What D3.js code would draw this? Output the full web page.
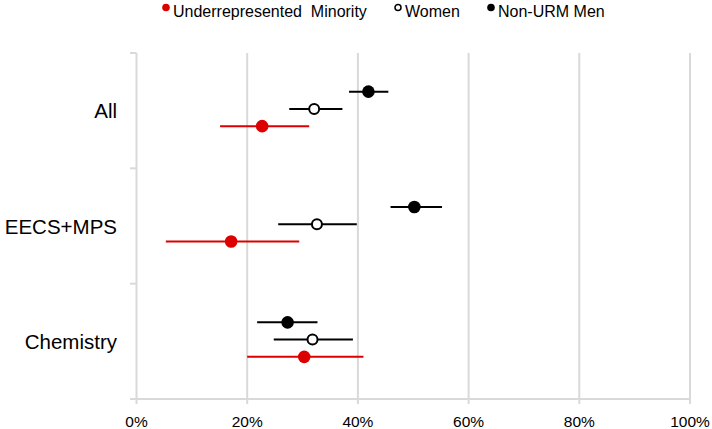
<!DOCTYPE html>
<html><head><meta charset="utf-8">
<script src="https://cdn.jsdelivr.net/npm/d3@7"></script>
<style>body{margin:0;background:#fff}svg{display:block;font-family:"Liberation Sans",Arial,sans-serif}</style>
</head><body><svg id="c" width="712" height="429"></svg>
<script>
const categories = ["All", "EECS+MPS", "Chemistry"];
const seriesNames = ["Non-URM Men", "Women", "Underrepresented  Minority"];
// values in percent: [mean, low, high] per category
const menValues = [[41.9, 38.4, 45.5], [50.2, 45.9, 55.2], [27.3, 21.8, 32.7]];
const womenValues = [[32.1, 27.6, 37.2], [32.6, 25.6, 39.8], [31.8, 24.8, 39.1]];
const urmValues = [[22.7, 15.1, 31.2], [17.1, 5.3, 29.4], [30.3, 20.0, 41.0]];
const xTicks = [0, 20, 40, 60, 80, 100];

const series = [
  {name: seriesNames[0], values: menValues, color: "#000", fill: "#000", line: "#000"},
  {name: seriesNames[1], values: womenValues, color: "#000", fill: "#fff", line: "#000"},
  {name: seriesNames[2], values: urmValues, color: "#dd0000", fill: "#dd0000", line: "#dd0000"}
];

const svg = d3.select("#c");
const x = d3.scaleLinear().domain([0, 100]).range([136.5, 690]);
const y = d3.scaleBand().domain(categories).range([53, 399]);
const yi = d3.scalePoint().domain(seriesNames).range([-19, 15.5]);

// gridlines
svg.append("g").selectAll("line").data(xTicks).join("line")
  .attr("x1", d => x(d)).attr("x2", d => x(d))
  .attr("y1", 53).attr("y2", 404)
  .attr("stroke", "#d9d9d9").attr("stroke-width", 2);

// x baseline
svg.append("line").attr("x1", 130).attr("x2", x(100)).attr("y1", 399).attr("y2", 399)
  .attr("stroke", "#d9d9d9").attr("stroke-width", 2);

// y-axis ticks
const yBounds = [53, ...categories.map(c => y(c) + y.bandwidth())];
svg.append("g").selectAll("line").data(yBounds).join("line")
  .attr("x1", 130).attr("x2", x(0)).attr("y1", d => d).attr("y2", d => d)
  .attr("stroke", "#d9d9d9").attr("stroke-width", 2);

// x tick labels
svg.append("g").selectAll("text").data(xTicks).join("text")
  .attr("x", d => x(d)).attr("y", 427).attr("text-anchor", "middle")
  .attr("font-size", 15.5).attr("fill", "#000").text(d => d + "%");

// category labels
svg.append("g").selectAll("text").data(categories).join("text")
  .attr("x", 117).attr("y", d => y(d) + y.bandwidth() / 2 + 7.5)
  .attr("text-anchor", "end").attr("font-size", 20.5).attr("fill", "#000").text(d => d);

// series
series.forEach(s => {
  const g = svg.append("g");
  const rows = s.values.map((v, i) => ({cat: categories[i], m: v[0], lo: v[1], hi: v[2]}));
  const cy = d => y(d.cat) + y.bandwidth() / 2 + yi(s.name);
  g.selectAll("line").data(rows).join("line")
    .attr("x1", d => x(d.lo)).attr("x2", d => x(d.hi))
    .attr("y1", cy).attr("y2", cy)
    .attr("stroke", s.line).attr("stroke-width", 2);
  g.selectAll("circle").data(rows).join("circle")
    .attr("cx", d => x(d.m)).attr("cy", cy)
    .attr("r", s.fill === "#fff" ? 5 : 6.3)
    .attr("fill", s.fill).attr("stroke", s.color).attr("stroke-width", s.fill === "#fff" ? 2 : 0);
});

// legend
const legend = [
  {name: seriesNames[2], x: 166, fill: "#dd0000", stroke: "#dd0000", sw: 0, r: 3.8},
  {name: "Women", x: 398, fill: "#fff", stroke: "#000", sw: 1.5, r: 3},
  {name: seriesNames[0], x: 491, fill: "#000", stroke: "#000", sw: 0, r: 3.8}
];
const lg = svg.append("g").selectAll("g").data(legend).join("g");
lg.append("circle").attr("cx", d => d.x).attr("cy", 7.5).attr("r", d => d.r)
  .attr("fill", d => d.fill).attr("stroke", d => d.stroke).attr("stroke-width", d => d.sw);
lg.append("text").attr("x", d => d.x + 7).attr("y", 16.5).attr("font-size", 16)
  .attr("fill", "#000").style("white-space", "pre").text(d => d.name);
</script></body></html>
